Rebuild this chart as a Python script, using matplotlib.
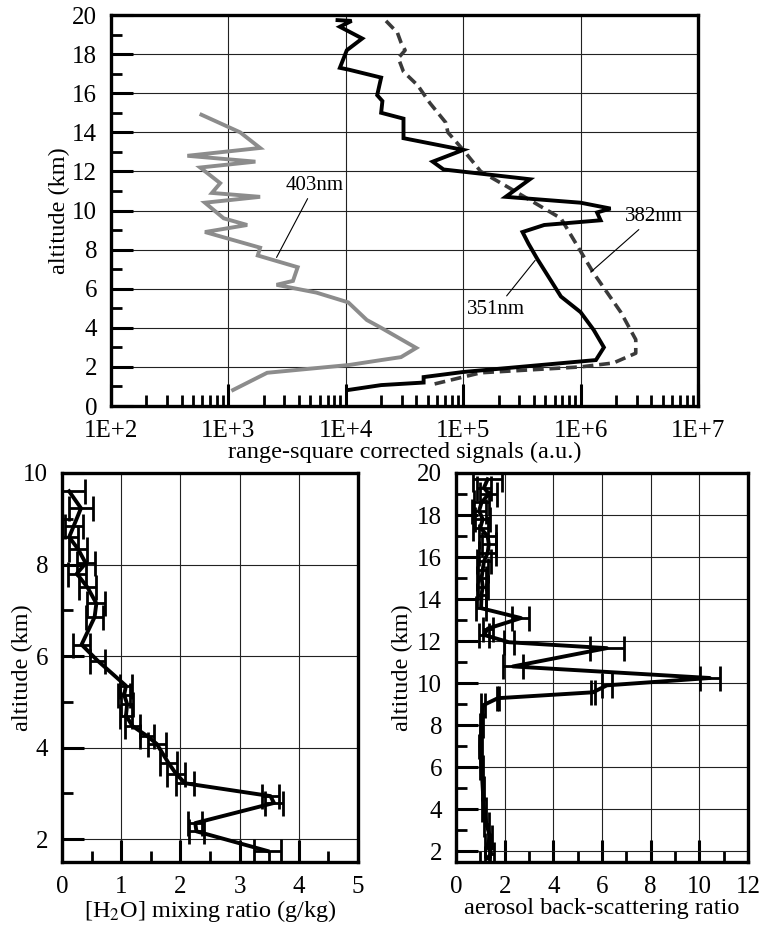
import numpy as np
import matplotlib
matplotlib.use('Agg')
import matplotlib.pyplot as plt
from matplotlib.ticker import LogLocator, NullFormatter

plt.rcParams['font.family'] = ['Liberation Serif', 'DejaVu Serif']
plt.rcParams['mathtext.fontset'] = 'stix'

# ---- top panel: range-square corrected signals ----
alt_351 = [19.74, 19.7, 19.4, 18.8, 18.2, 17.3, 17.2, 16.8, 15.9, 15.6, 15.0, 14.7, 13.7,
           13.1, 12.5, 12.1, 11.6, 10.7, 10.4, 10.1, 9.9, 9.5, 9.26, 8.9, 8.3, 7.5,
           5.6, 4.8, 3.9, 3.0, 2.35, 1.74, 1.48, 1.2, 1.07, 0.82]
sig_351 = [8.5e3, 1.12e4, 8.9e3, 1.38e4, 1.02e4, 8.9e3, 1.07e4, 2.0e4, 1.85e4, 2.05e4, 2.0e4,
           3.1e4, 3.1e4, 1.0e5, 5.5e4, 6.8e4, 3.7e5, 2.3e5, 1.0e6, 1.8e6, 1.38e6, 1.48e6,
           4.9e5, 3.2e5, 3.6e5, 4.3e5, 6.8e5, 1.0e6, 1.29e6, 1.58e6, 1.35e6, 1.0e5, 4.6e4,
           4.6e4, 2.0e4, 1.05e4]

alt_382 = [19.7, 19.1, 18.6, 18.2, 17.8, 17.1, 16.4, 15.5, 14.5, 14.0, 13.1, 12.0, 11.2,
           9.6, 9.0, 6.8, 4.8, 3.4, 2.7, 2.2, 2.0, 1.7, 1.07]
sig_382 = [2.2e4, 2.75e4, 2.95e4, 3.2e4, 2.8e4, 3.1e4, 4.1e4, 5.2e4, 7.1e4, 7.4e4, 1.0e5,
           1.41e5, 2.4e5, 6.8e5, 7.8e5, 1.29e6, 2.2e6, 2.95e6, 2.95e6, 1.9e6, 1.0e6,
           1.41e5, 5.2e4]

alt_403 = [14.9, 14.0, 13.2, 12.8, 12.5, 12.2, 11.4, 10.9, 10.7, 10.4, 9.6, 9.26, 8.9,
           8.1, 7.7, 7.1, 6.4, 6.2, 5.8, 5.3, 4.4, 4.0, 2.97, 2.5, 2.35, 2.1, 1.7, 0.82]
sig_403 = [589, 1259, 1862, 447, 1698, 575, 851, 724, 1862, 631, 912, 1445, 631,
           1862, 1778, 3890, 3548, 2570, 5623, 1.05e4, 1.51e4, 2.0e4, 3.98e4, 2.95e4,
           2.0e4, 1.07e4, 2138, 1096]

decades = [1e2, 1e3, 1e4, 1e5, 1e6, 1e7]
decade_labels = ['1E+2', '1E+3', '1E+4', '1E+5', '1E+6', '1E+7']

# ---- bottom left: water vapour mixing ratio ----
alt_h2o = [9.6, 9.23, 8.85, 8.6, 8.34, 8.03, 7.8, 7.5, 7.15, 6.85, 6.25, 5.9, 5.35, 5.15,
           4.95, 4.7, 4.47, 4.25, 4.08, 3.66, 3.42, 3.22, 2.94, 2.79, 2.35, 2.17, 1.74]
h2o = [0.12, 0.32, 0.2, 0.12, 0.27, 0.4, 0.25, 0.43, 0.58, 0.55, 0.33, 0.6, 1.08, 1.05,
       1.1, 1.08, 1.19, 1.44, 1.6, 1.8, 1.93, 2.08, 3.52, 3.58, 2.25, 2.27, 3.47]
h2o_err = [0.27, 0.2, 0.15, 0.15, 0.15, 0.15, 0.15, 0.15, 0.15, 0.15, 0.15, 0.12, 0.1, 0.1,
           0.1, 0.1, 0.12, 0.12, 0.15, 0.15, 0.15, 0.15, 0.15, 0.15, 0.12, 0.12, 0.22]

# ---- bottom right: aerosol back-scattering ratio ----
alt_bsr = [19.7, 19.3, 19.0, 18.6, 18.2, 17.8, 17.4, 17.0, 16.6, 16.2, 15.8, 15.4, 15.0,
           14.6, 14.2, 13.57, 13.1, 12.6, 12.3, 11.95, 11.67, 10.8, 10.25, 9.9, 9.57,
           9.29, 8.95, 8.0, 7.0, 6.0, 5.0, 4.0, 3.3, 2.7, 2.3, 1.9, 1.7]
bsr = [1.3, 1.15, 1.35, 1.05, 0.95, 1.1, 1.0, 1.3, 1.35, 1.3, 1.15, 1.1, 1.05,
       1.1, 1.05, 1.03, 2.67, 1.31, 1.15, 2.18, 6.2, 2.34, 10.43, 6.2, 5.63,
       1.72, 1.11, 1.05, 1.0, 1.05, 1.1, 1.15, 1.25, 1.4, 1.3, 1.45, 1.3]
bsr_err = [0.6, 0.3, 0.35, 0.3, 0.3, 0.3, 0.3, 0.35, 0.3, 0.35, 0.3, 0.2, 0.2,
           0.2, 0.2, 0.2, 0.35, 0.2, 0.2, 0.2, 0.7, 0.4, 0.4, 0.2, 0.1,
           0.05, 0.1, 0.05, 0.05, 0.05, 0.05, 0.1, 0.1, 0.1, 0.1, 0.1, 0.1]


def style_axes(ax):
    for s in ax.spines.values():
        s.set_linewidth(2.4)
    ax.grid(True, which='major', color='#222222', lw=0.8)
    ax.tick_params(which='major', direction='in', length=16, width=2.2,
                   labelsize=18, top=False, right=False, pad=10)
    ax.tick_params(which='minor', direction='in', length=8, width=2,
                   top=False, right=False)
    ax.set_axisbelow(True)


fig = plt.figure(figsize=(7.62, 9.34), dpi=100)

# top panel
ax1 = fig.add_axes([0.1457, 0.5653, 0.7703, 0.4186])
ax1.plot(sig_403, alt_403, color='#8c8c8c', lw=2.8, solid_joinstyle='miter')
ax1.plot(sig_382, alt_382, color='#3a3a3a', lw=2.6, ls=(0, (3, 1.6)))
ax1.plot(sig_351, alt_351, color='black', lw=2.8, solid_joinstyle='miter')
ax1.set_xscale('log')
ax1.set_xlim(1e2, 1e7)
ax1.set_ylim(0, 20)
ax1.set_xticks(decades)
ax1.set_xticklabels(decade_labels)
ax1.xaxis.set_minor_locator(LogLocator(base=10, subs=np.arange(2, 10)))
ax1.xaxis.set_minor_formatter(NullFormatter())
ax1.set_yticks(np.arange(0, 21, 2))
ax1.set_yticks(np.arange(1, 20, 2), minor=True)
style_axes(ax1)
ax1.set_xlabel('range-square corrected signals (a.u.)', fontsize=17.5, labelpad=0)
ax1.set_ylabel('altitude (km)', fontsize=17.5)
ax1.yaxis.set_label_coords(-0.07, 0.5)

arrow = dict(arrowstyle='-', color='black', lw=0.8, shrinkA=1, shrinkB=0)
ax1.annotate('403nm', xy=(2570, 7.6), xytext=(5440, 11.3), fontsize=15,
             ha='center', va='center', arrowprops=arrow)
ax1.annotate('351nm', xy=(4.1e5, 7.45), xytext=(1.9e5, 4.95), fontsize=15,
             ha='center', va='center', arrowprops=arrow)
ax1.annotate('382nm', xy=(1.22e6, 6.85), xytext=(4.2e6, 9.7), fontsize=15,
             ha='center', va='center', arrowprops=arrow)

# bottom left panel
ax2 = fig.add_axes([0.0814, 0.0771, 0.3885, 0.4165])
ax2.errorbar(h2o, alt_h2o, xerr=h2o_err, color='black', lw=2.8, elinewidth=2,
             capsize=9, capthick=2)
ax2.set_xlim(0, 5)
ax2.set_ylim(1.5, 10)
ax2.set_xticks(np.arange(0, 6, 1))
ax2.set_xticks(np.arange(0.5, 5, 1), minor=True)
ax2.set_yticks(np.arange(2, 11, 2))
ax2.set_yticks(np.arange(3, 10, 2), minor=True)
style_axes(ax2)
ax2.set_xlabel('[H$_2$O] mixing ratio (g/kg)', fontsize=17.5, labelpad=0)
ax2.set_ylabel('altitude (km)', fontsize=17.5)
ax2.yaxis.set_label_coords(-0.098, 0.5)

# bottom right panel
ax3 = fig.add_axes([0.5984, 0.0771, 0.3832, 0.4165])
ax3.errorbar(bsr, alt_bsr, xerr=bsr_err, color='black', lw=2.8, elinewidth=2,
             capsize=9, capthick=2)
ax3.set_xlim(0, 12)
ax3.set_ylim(1.5, 20)
ax3.set_xticks(np.arange(0, 13, 2))
ax3.set_xticks(np.arange(1, 12, 2), minor=True)
ax3.set_yticks(np.arange(2, 21, 2))
ax3.set_yticks(np.arange(3, 20, 2), minor=True)
style_axes(ax3)
ax3.set_xlabel('aerosol back-scattering ratio', fontsize=17.5, labelpad=0)
ax3.set_ylabel('altitude (km)', fontsize=17.5)
ax3.yaxis.set_label_coords(-0.147, 0.5)

fig.savefig('out.png', dpi=100)
